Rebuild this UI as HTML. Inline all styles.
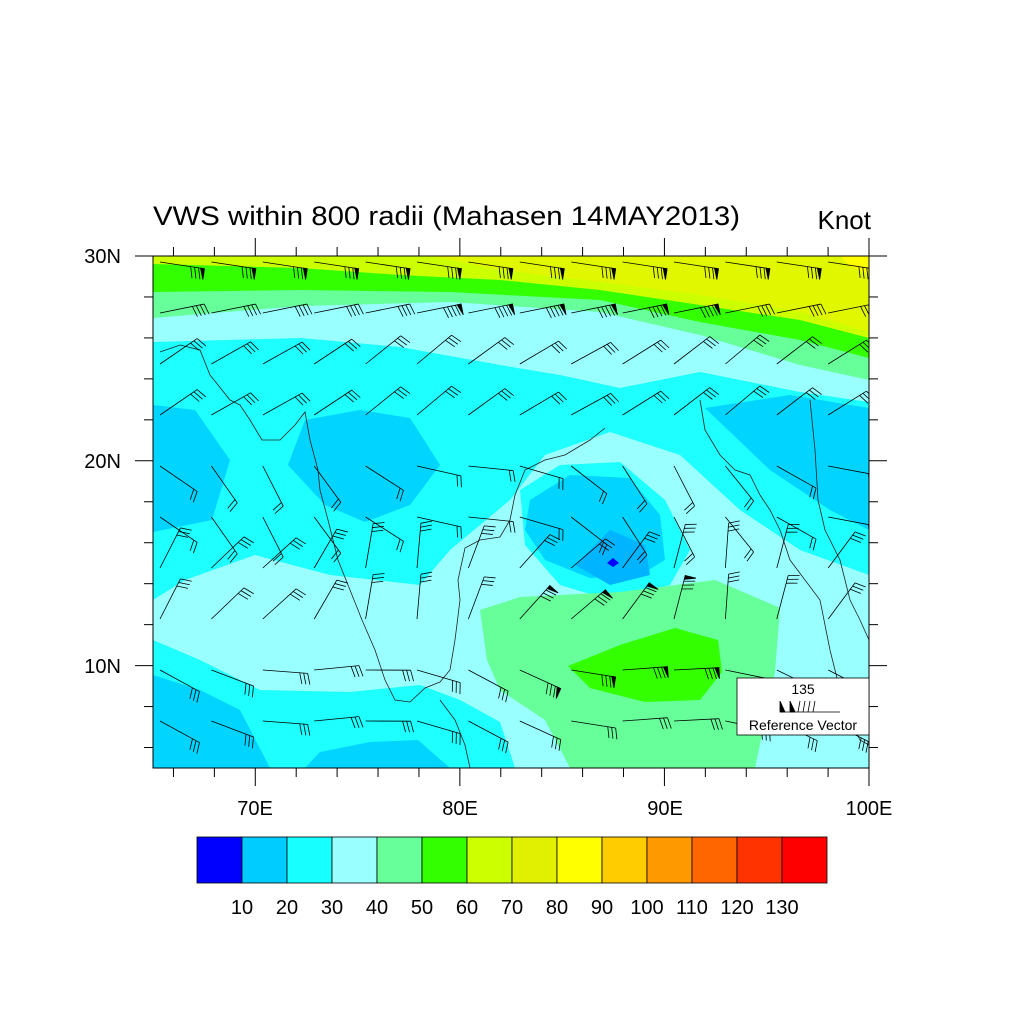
<!DOCTYPE html>
<html><head><meta charset="utf-8"><style>
body{margin:0;background:#fff;}
svg{display:block;font-family:"Liberation Sans",sans-serif;}
</style></head><body>
<svg id="s" width="1024" height="1024" viewBox="0 0 1024 1024">
<defs><clipPath id="c"><rect x="153" y="256" width="716" height="512"/></clipPath></defs>
<g clip-path="url(#c)">
<rect x="153" y="256" width="716" height="512" fill="#1effff"/>
<polygon fill="#99ffff" points="153,256 869,256 869,402 800,392 700,372 620,388 560,375 500,365 400,347 300,338 153,342"/>
<polygon fill="#66ff99" points="153,256 869,256 869,380 800,365 700,335 600,312 450,302 300,306 153,318"/>
<polygon fill="#33ff00" points="153,256 869,256 869,358 800,340 700,322 600,300 450,292 300,290 153,292"/>
<polygon fill="#ccff00" points="153,256 869,256 869,338 800,320 700,305 600,290 500,280 400,275 300,268 153,264"/>
<polygon fill="#e0f700" points="430,256 869,256 869,332 800,312 700,295 600,282 500,270"/>
<polygon fill="#ffff00" points="840,256 869,256 869,274 850,266"/>
<polygon fill="#00d4ff" points="153,405 195,410 230,460 212,520 153,532"/>
<polygon fill="#00d4ff" points="305,420 360,410 410,418 440,465 410,505 365,522 325,505 288,465"/>
<polygon fill="#00d4ff" points="705,408 790,395 869,408 869,530 830,510 770,470"/>
<polygon fill="#99ffff" points="153,600 185,580 255,555 330,575 420,585 450,550 510,500 545,455 610,432 680,455 740,510 800,550 869,575 869,768 515,768 500,722 460,700 420,685 350,692 260,690 200,660 153,640"/>
<polygon fill="#1effff" points="520,490 560,465 620,462 665,500 690,550 670,585 610,600 560,585 525,545"/>
<polygon fill="#00d4ff" points="530,500 570,475 630,478 660,515 665,560 640,575 590,578 545,560 525,530"/>
<polygon fill="#00b4ff" points="575,565 610,530 645,545 650,575 610,585"/>
<polygon fill="#0000ff" points="607,563 613,558 619,563 613,567"/>
<polygon fill="#00d4ff" points="153,675 200,690 240,710 270,768 153,768"/>
<polygon fill="#00d4ff" points="320,752 370,742 418,740 450,768 305,768"/>
<polygon fill="#66ff99" points="480,610 520,597 620,592 715,580 780,608 775,672 755,768 570,768 545,720 500,690 487,660"/>
<polygon fill="#33ff00" points="568,666 620,645 675,628 718,640 722,672 700,700 645,702 590,688"/>
<polyline fill="none" stroke="#222" stroke-width="0.8" points="160,352 180,345 200,350 210,375 230,400 240,405 250,420 262,440 280,440 295,425 305,412 310,440 318,470 320,490 328,520 338,560 350,590 362,620 375,650 385,680 395,700 410,702 425,688 440,682 450,670 455,640 460,600 458,580 465,548 480,540 500,537 510,520 515,495 525,470 545,460 565,455 590,440 605,428"/>
<polyline fill="none" stroke="#222" stroke-width="0.8" points="700,400 705,430 720,455 735,470 750,475 760,495 770,510 780,530 790,560 805,580 820,600 830,650 840,690 850,720 860,740 869,745"/>
<polyline fill="none" stroke="#222" stroke-width="0.8" points="810,400 815,450 818,500 825,530 840,560 850,600 860,620 869,640"/>
<polyline fill="none" stroke="#222" stroke-width="0.8" points="440,700 455,720 465,745 470,768"/>
<g id="barbs" stroke="#000" stroke-width="0.8" fill="#000"></g>
</g>
<rect x="153" y="256" width="716" height="512" fill="none" stroke="#000" stroke-width="1"/>
<g id="ticks" stroke="#000" stroke-width="1"></g>
<text x="153" y="225" font-size="27" textLength="587" lengthAdjust="spacingAndGlyphs">VWS within 800 radii (Mahasen 14MAY2013)</text>
<text x="871" y="229" font-size="26" text-anchor="end">Knot</text>
<g font-size="20" text-anchor="end">
<text x="121" y="263">30N</text><text x="121" y="468">20N</text><text x="121" y="673">10N</text></g>
<g font-size="20" text-anchor="middle">
<text x="255" y="815">70E</text><text x="460" y="815">80E</text><text x="665" y="815">90E</text><text x="869" y="815">100E</text></g>
<rect x="737" y="678" width="132" height="57" fill="#fff" stroke="#000" stroke-width="0.8"/>
<text x="803" y="694" font-size="14" text-anchor="middle">135</text>
<g stroke="#000" stroke-width="0.8"><line x1="780" y1="712" x2="840" y2="712"/>
<polygon points="780,712 785,712 780,701" /><polygon points="790,712 795,712 790,701"/>
<line x1="798" y1="712" x2="800" y2="701"/><line x1="803" y1="712" x2="805" y2="701"/><line x1="808" y1="712" x2="810" y2="701"/><line x1="813" y1="712" x2="815" y2="701"/></g>
<text x="803" y="730" font-size="14" text-anchor="middle">Reference Vector</text>
<g id="cb" stroke="#000" stroke-width="0.8"></g>
<g id="cbl" font-size="20" text-anchor="middle"></g>
</svg>
<script>
var N="http://www.w3.org/2000/svg";
function el(p,t,a,txt){var e=document.createElementNS(N,t);for(var k in a)e.setAttribute(k,a[k]);if(txt)e.textContent=txt;document.getElementById(p).appendChild(e);}
var cols=["#0000ff","#00ccff","#18ffff","#99ffff","#66ff99","#33ff00","#ccff00","#e0f000","#ffff00","#ffcc00","#ff9900","#ff6600","#ff3300","#ff0000"];
for(var i=0;i<14;i++){el("cb","rect",{x:197+i*45,y:837,width:45,height:46,fill:cols[i]});}
var labs=["10","20","30","40","50","60","70","80","90","100","110","120","130"];
for(i=0;i<13;i++)el("cbl","text",{x:242+i*45,y:914},labs[i]);
for(var lon=66;lon<=100;lon+=2){var x=153+(lon-65)*716/35;var maj=(lon%10==0);var L=maj?18:9;
el("ticks","line",{x1:x,y1:768,x2:x,y2:768+L});el("ticks","line",{x1:x,y1:256,x2:x,y2:256-L});}
for(var lat=6;lat<=30;lat+=2){var y=768-(lat-5)*512/25;var maj=(lat%10==0);var L=maj?18:9;
el("ticks","line",{x1:153,y1:y,x2:153-L,y2:y});el("ticks","line",{x1:869,y1:y,x2:869+L,y2:y});}
function barb(x,y,ang,n,fl){var dx=Math.cos(ang),dy=Math.sin(ang),len=45;
var ex=x+dx*len,ey=y+dy*len;el("barbs","line",{x1:x,y1:y,x2:ex,y2:ey});
var px=-dy,py=dx;var k=0;
for(var f=0;f<fl;f++){var bx=ex-dx*k,by=ey-dy*k;el("barbs","polygon",{points:bx+","+by+" "+(bx-dx*4)+","+(by-dy*4)+" "+(bx+px*11)+","+(by+py*11)});k+=6;}
for(var j=0;j<n;j++){var bx=ex-dx*k,by=ey-dy*k;el("barbs","line",{x1:bx,y1:by,x2:bx+px*11+dx*3,y2:by+py*11+dy*3});k+=4;}}
for(var r=0;r<10;r++){for(var c=0;c<14;c++){var x=160+c*51.4,y=262+r*51;
var ang,n,fl=0;
if(r==0){ang=0.15;n=3;fl=1;}else if(r==1){ang=-0.2;n=4;fl=(c>4&&c<11)?1:0;}
else if(r<=3){ang=-0.6+0.1*Math.sin(c);n=3;}
else if(r<=5){ang=0.6+0.5*Math.sin(c*0.8);n=2;}
else if(r<=7){ang=-1.1+0.4*Math.sin(c);n=3;fl=(r==7&&c>=7&&c<=10)?1:0;}
else{ang=0.2+0.3*Math.cos(c);n=3;fl=(r==8&&c>=7&&c<=10)?1:0;}
barb(x,y,ang,n,fl);}}
</script>
</body></html>
